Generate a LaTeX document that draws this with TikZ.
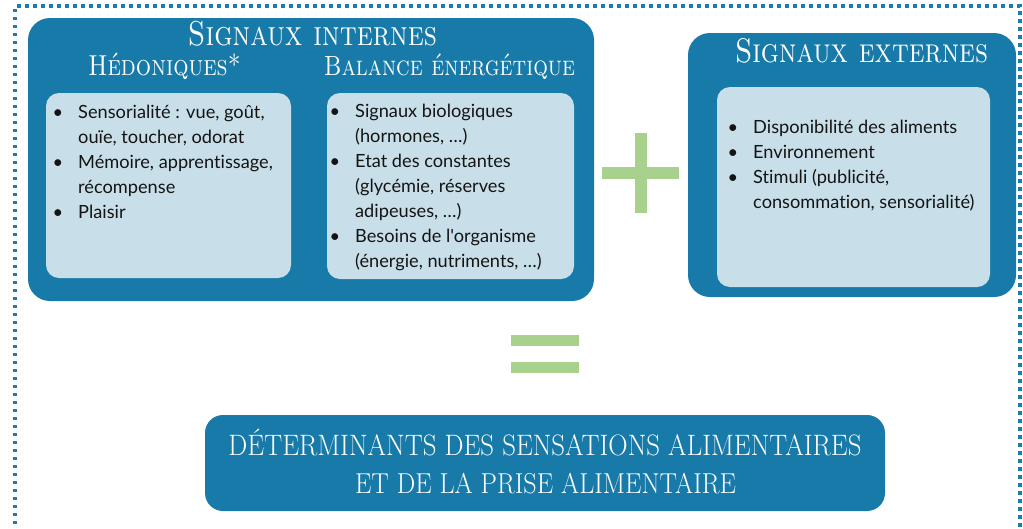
\documentclass[tikz,border=0pt]{standalone}
\usepackage{fontspec}
\usepackage{graphicx}
\newfontfamily\lato[Ligatures={NoCommon,NoDiscretionary,NoRare}]{Lato}
\definecolor{dblue}{RGB}{23,122,168}
\definecolor{lblue}{RGB}{200,223,234}
\definecolor{lgreen}{RGB}{169,209,142}
\definecolor{dotblue}{RGB}{28,124,174}
\definecolor{txt}{RGB}{20,20,20}
\newcommand\bul{\llap{•\hspace{15pt}}}
\newcommand\ttl[2]{\scalebox{1}[1.2]{\resizebox{#1}{!}{\textsc{#2}}}}
\newcommand\rtl[2]{\scalebox{1}[1.1]{\resizebox{#1}{!}{#2}}}
\begin{document}
\begin{tikzpicture}[x=1pt,y=-1pt,
  outerbox/.style={draw=none,fill=dblue,rounded corners=22pt,inner sep=0pt},
  innerbox/.style={draw=none,fill=lblue,rounded corners=13pt,inner sep=0pt},
  title/.style={text=white,inner sep=0pt,anchor=base,font=\fontsize{26}{28}\selectfont},
  listtext/.style={text=txt,inner sep=0pt,anchor=base west,font=\lato\fontsize{18.2}{25}\selectfont},
  greenbar/.style={fill=lgreen,draw=none},
  dotline/.style={draw=dotblue,line width=3.5pt,dash pattern=on 3.5pt off 4.5pt}
]
\useasboundingbox (0,0) rectangle (1023,528);
\fill[white] (0,0) rectangle (1023,528);
% dotted frame
\coordinate (fbl) at (15,540);
\coordinate (ftl) at (15,6);
\coordinate (ftr) at (1020,6);
\coordinate (fbr) at (1020,540);
\draw[dotline] (fbl) -- (ftl) -- (ftr) -- (fbr);
% internal signals
\node[outerbox,minimum width=566pt,minimum height=283pt] (int) at (311,159.5) {};
\node[innerbox,minimum width=245pt,minimum height=185pt] (hed) at (168.5,185.5) {};
\node[innerbox,minimum width=247pt,minimum height=186pt] (bal) at (450.5,186) {};
\node[title] (tint) at (312.5,45) {\ttl{249pt}{Signaux internes}};
\node[title] (thed) at (164.5,75) {\ttl{153pt}{Hédoniques*}};
\node[title] (tbal) at (449.5,75) {\ttl{251pt}{Balance énergétique}};
\node[listtext] (lhed) at (78,118) {\begin{tabular}[t]{@{}l@{}}
\bul Sensorialité : vue, goût,\\
ouïe, toucher, odorat\\
\bul Mémoire, apprentissage,\\
récompense\\
\bul Plaisir
\end{tabular}};
\node[listtext] (lbal) at (355,117) {\begin{tabular}[t]{@{}l@{}}
\bul Signaux biologiques\\
(hormones, …)\\
\bul Etat des constantes\\
(glycémie, réserves\\
adipeuses, …)\\
\bul Besoins de l'organisme\\
(énergie, nutriments, …)
\end{tabular}};
% plus
\fill[greenbar] (635,133) rectangle (647,213);
\fill[greenbar] (602,167) rectangle (679,179);
% external signals
\node[outerbox,minimum width=328pt,minimum height=264pt] (ext) at (852,165) {};
\node[innerbox,minimum width=273pt,minimum height=200pt] (extin) at (853.5,187) {};
\node[title] (text) at (861.5,62) {\ttl{253pt}{Signaux externes}};
\node[listtext] (lext) at (753,133) {\begin{tabular}[t]{@{}l@{}}
\bul Disponibilité des aliments\\
\bul Environnement\\
\bul Stimuli (publicité,\\
consommation, sensorialité)
\end{tabular}};
% equals
\fill[greenbar] (511,335) rectangle (579,346);
\fill[greenbar] (511,362) rectangle (579,373);
% result
\node[outerbox,rounded corners=18pt,minimum width=680pt,minimum height=96pt] (res) at (545,463) {};
\node[title] (tres1) at (545,455) {\rtl{633pt}{DÉTERMINANTS DES SENSATIONS ALIMENTAIRES}};
\node[title] (tres2) at (545.5,493) {\rtl{381pt}{ET DE LA PRISE ALIMENTAIRE}};
\end{tikzpicture}
\end{document}
